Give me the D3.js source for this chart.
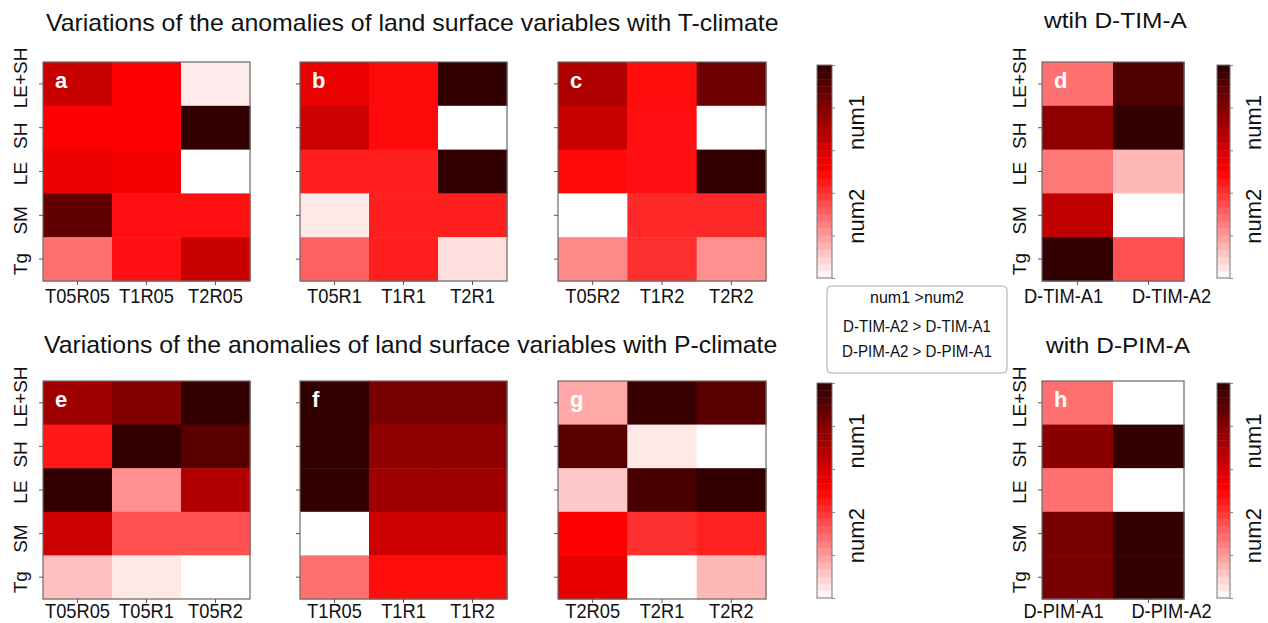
<!DOCTYPE html>
<html>
<head>
<meta charset="utf-8">
<script src="https://cdn.jsdelivr.net/npm/d3@7"></script>
<style>
body { margin: 0; background: #fff; }
svg { display: block; }
text { font-family: "Liberation Sans", Arial, Helvetica, sans-serif; }
</style>
</head>
<body>
<svg id="chart" width="1268" height="623"></svg>
<script>
// rows of every panel, top to bottom
const rowNames = ["LE+SH", "SH", "LE", "SM", "Tg"]

// T-climate panels (a, b, c) and D-TIM-A (d)
const colsA = ["T05R05", "T1R05", "T2R05"]
const valsA = [[0.63, 0.50, 0.04], [0.50, 0.50, 0.99], [0.54, 0.52, 0.00], [0.88, 0.47, 0.47], [0.28, 0.47, 0.63]]
const colsB = ["T05R1", "T1R1", "T2R1"]
const valsB = [[0.55, 0.48, 0.99], [0.62, 0.48, 0.00], [0.44, 0.44, 0.99], [0.045, 0.44, 0.44], [0.31, 0.44, 0.065]]
const colsC = ["T05R2", "T1R2", "T2R2"]
const valsC = [[0.69, 0.476, 0.85], [0.63, 0.47, 0.00], [0.484, 0.47, 0.99], [0.00, 0.42, 0.42], [0.233, 0.406, 0.218]]
const colsD = ["D-TIM-A1", "D-TIM-A2"]
const valsD = [[0.28, 0.92], [0.77, 0.99], [0.265, 0.139], [0.65, 0.00], [0.99, 0.343]]

// P-climate panels (e, f, g) and D-PIM-A (h)
const colsE = ["T05R05", "T05R1", "T05R2"]
const valsE = [[0.73, 0.80, 0.99], [0.453, 0.99, 0.90], [0.99, 0.218, 0.69], [0.62, 0.343, 0.343], [0.124, 0.045, 0.00]]
const colsF = ["T1R05", "T1R1", "T1R2"]
const valsF = [[0.99, 0.823, 0.823], [0.99, 0.766, 0.766], [0.99, 0.727, 0.727], [0.00, 0.62, 0.62], [0.28, 0.476, 0.476]]
const colsG = ["T2R05", "T2R1", "T2R2"]
const valsG = [[0.17, 0.976, 0.90], [0.90, 0.045, 0.00], [0.108, 0.938, 0.99], [0.50, 0.406, 0.437], [0.555, 0.00, 0.139]]
const colsH = ["D-PIM-A1", "D-PIM-A2"]
const valsH = [[0.28, 0.00], [0.785, 0.99], [0.28, 0.00], [0.823, 0.99], [0.823, 0.99]]

const titleT = "Variations of the anomalies of land surface variables with T-climate"
const titleP = "Variations of the anomalies of land surface variables with P-climate"
const titleD = "wtih D-TIM-A"
const titleH = "with D-PIM-A"
const legendLines = ["num1 >num2", "D-TIM-A2 > D-TIM-A1", "D-PIM-A2 > D-PIM-A1"]
const barNames = ["num1", "num2"]
const barTicks = [0, 0.2, 0.4, 0.6, 0.8, 1]
const barSteps = 30

const svg = d3.select("#chart")

const color = d3.scaleLinear()
  .domain([0, 0.5, 1])
  .range(["#ffffff", "#ff0000", "#2e0000"])
  .clamp(true)

// squeeze a text horizontally so it fills the wanted width
function fit(sel, x, y, width) {
  const len = sel.node().getComputedTextLength()
  sel.attr("transform", `translate(${x},${y}) scale(${width / len},1)`)
}

// the rotated row names do not sit exactly on their ticks in the original
const rowShift = [-6, 8, 2, 5, 5]
// the two wide labels under d and h are pushed apart
const pairShift = [-14, 23]

const panels = [
  {tag: "a", cols: colsA, vals: valsA, x: 43, y: 62, w: 207, h: 219, rowLabels: true, pad: 3},
  {tag: "b", cols: colsB, vals: valsB, x: 300, y: 62, w: 207, h: 219, pad: 3},
  {tag: "c", cols: colsC, vals: valsC, x: 558, y: 62, w: 208, h: 219, pad: 3},
  {tag: "d", cols: colsD, vals: valsD, x: 1042, y: 62, w: 142, h: 219, rowLabels: true, pad: 3},
  {tag: "e", cols: colsE, vals: valsE, x: 43, y: 381, w: 207, h: 218, rowLabels: true, pad: 0},
  {tag: "f", cols: colsF, vals: valsF, x: 300, y: 381, w: 207, h: 218, pad: 0},
  {tag: "g", cols: colsG, vals: valsG, x: 558, y: 381, w: 208, h: 218, pad: 0},
  {tag: "h", cols: colsH, vals: valsH, x: 1042, y: 381, w: 142, h: 218, rowLabels: true, pad: 0}
]

panels.forEach(p => {
  const x = d3.scaleBand().domain(p.cols).range([p.x, p.x + p.w])
  const y = d3.scaleBand().domain(rowNames).range([p.y, p.y + p.h])
  const g = svg.append("g")

  const cells = p.vals.flatMap((row, i) => row.map((v, j) => ({r: rowNames[i], c: p.cols[j], v})))
  g.selectAll("rect.cell")
    .data(cells)
    .join("rect")
    .attr("class", "cell")
    .attr("x", d => x(d.c))
    .attr("y", d => y(d.r))
    .attr("width", x.bandwidth() + 0.5)
    .attr("height", y.bandwidth() + 0.5)
    .attr("fill", d => color(d.v))

  g.append("rect")
    .attr("x", p.x).attr("y", p.y)
    .attr("width", p.w).attr("height", p.h)
    .attr("fill", "none")
    .attr("stroke", "#6a6a6a")
    .attr("stroke-width", 1.2)

  const xa = g.append("g")
    .attr("transform", `translate(0,${p.y + p.h})`)
    .call(d3.axisBottom(x).tickSize(4).tickPadding(p.pad))
  xa.select(".domain").remove()
  xa.selectAll("line").attr("stroke", "#555")
  xa.selectAll("text")
    .attr("font-size", 21)
    .attr("fill", "#111")
    .attr("transform", (d, i) => `translate(${p.cols.length == 2 ? pairShift[i] : 0},0) scale(0.87,1)`)

  const ya = g.append("g")
    .attr("transform", `translate(${p.x},0)`)
    .call(d3.axisLeft(y).tickSize(4))
  ya.select(".domain").remove()
  ya.selectAll("line").attr("stroke", "#555")
  if (p.rowLabels) {
    ya.selectAll("text")
      .attr("transform", "rotate(-90)")
      .attr("x", (d, i) => -rowShift[i]).attr("y", -16).attr("dy", 0)
      .attr("text-anchor", "middle")
      .attr("font-size", 19)
      .attr("fill", "#111")
  } else {
    ya.selectAll("text").remove()
  }

  g.append("text")
    .attr("x", p.x + 12)
    .attr("y", p.y + 26)
    .attr("fill", "white")
    .attr("font-size", 22)
    .attr("font-weight", "bold")
    .text(p.tag)
})

// colour bars
const bars = [
  {x: 817, y: 65, w: 15, h: 213, lx: 864},
  {x: 817, y: 383, w: 15, h: 215, lx: 864},
  {x: 1217, y: 65, w: 13, h: 213, lx: 1261},
  {x: 1217, y: 383, w: 13, h: 215, lx: 1261}
]
const steps = d3.range(barSteps)

bars.forEach(b => {
  const s = d3.scaleLinear().domain([0, 1]).range([b.y + b.h, b.y])
  const g = svg.append("g")
  g.selectAll("rect")
    .data(steps)
    .join("rect")
    .attr("x", b.x)
    .attr("y", i => s((i + 1) / barSteps))
    .attr("width", b.w)
    .attr("height", i => s(i / barSteps) - s((i + 1) / barSteps) + 0.4)
    .attr("fill", i => color((i + 0.5) / barSteps))
  g.append("rect")
    .attr("x", b.x).attr("y", b.y)
    .attr("width", b.w).attr("height", b.h)
    .attr("fill", "none")
    .attr("stroke", "#777")
  const ax = g.append("g")
    .attr("transform", `translate(${b.x + b.w},0)`)
    .call(d3.axisRight(s).tickValues(barTicks).tickSize(3).tickFormat(""))
  ax.select(".domain").remove()
  ax.selectAll("line").attr("stroke", "#888")

  g.selectAll("text.bl")
    .data(barNames)
    .join("text")
    .attr("class", "bl")
    .attr("transform", (d, i) => `translate(${b.lx},${b.y + b.h * (i ? 0.71 : 0.27)}) rotate(-90)`)
    .attr("text-anchor", "middle")
    .attr("font-size", 22)
    .attr("fill", "#111")
    .text(d => d)
})

// titles
const titles = [
  {t: titleT, x: 46, y: 31, w: 733, size: 24},
  {t: titleP, x: 44, y: 353, w: 734, size: 24},
  {t: titleD, x: 1044, y: 28, w: 143, size: 22},
  {t: titleH, x: 1046, y: 353, w: 144, size: 22}
]
titles.forEach(d => {
  const t = svg.append("text")
    .attr("font-size", d.size)
    .attr("fill", "#111")
    .text(d.t)
  fit(t, d.x, d.y, d.w)
})

// legend box
svg.append("rect")
  .attr("x", 827).attr("y", 286)
  .attr("width", 180).attr("height", 87)
  .attr("rx", 4)
  .attr("fill", "white")
  .attr("stroke", "#aaa")
const legendY = [303, 332, 357]
const legendW = [94, 148, 150]
legendLines.forEach((line, i) => {
  const t = svg.append("text")
    .attr("text-anchor", "middle")
    .attr("font-size", 17)
    .attr("fill", "#111")
    .text(line)
  fit(t, 917, legendY[i], legendW[i])
})
</script>
</body>
</html>
